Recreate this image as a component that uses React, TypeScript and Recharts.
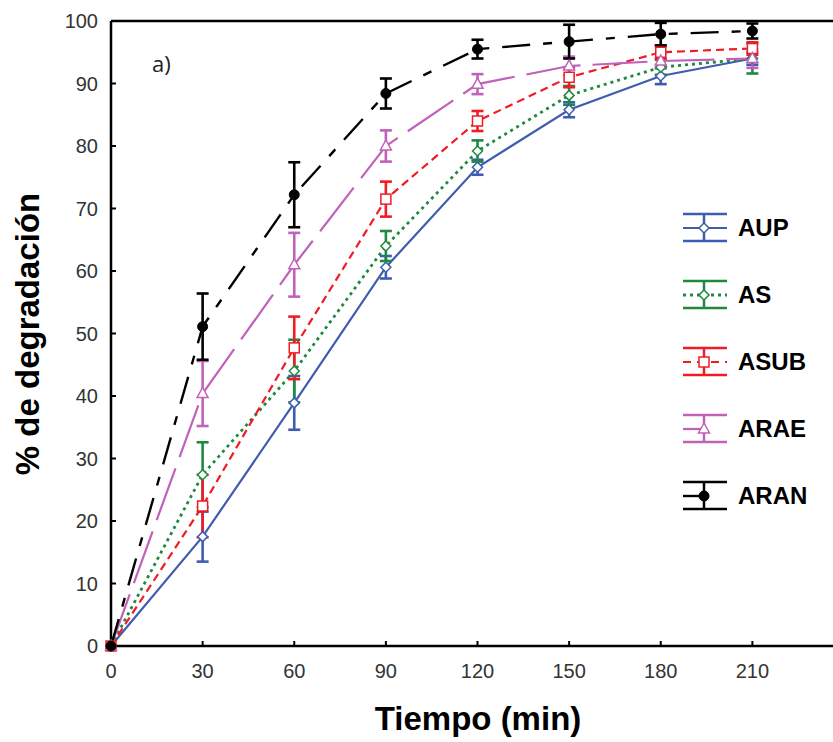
import React from "react";
import {
  LineChart,
  Line,
  XAxis,
  YAxis,
  ErrorBar,
  ReferenceLine,
} from "recharts";

// tiempo (min)
const TIME = [0, 30, 60, 90, 120, 150, 180, 210];
const X_TICKS = [0, 30, 60, 90, 120, 150, 180, 210];
const Y_TICKS = [0, 10, 20, 30, 40, 50, 60, 70, 80, 90, 100];

// % de degradación y desviación
const AUP = [0, 17.5, 38.9, 60.6, 76.6, 85.8, 91.2, 94.0];
const AUP_ERR = [0, 4, 4.3, 1.8, 1.2, 1.2, 1.3, 1.0];
const AS = [0, 27.4, 44.0, 64.0, 79.2, 88.1, 92.6, 94.0];
const AS_ERR = [0, 5.2, 5.0, 2.4, 1.7, 1.5, 1.2, 2.4];
const ASUB = [0, 22.4, 47.7, 71.5, 84.0, 91.0, 95.0, 95.6];
const ASUB_ERR = [0, 5, 5, 2.8, 1.6, 1.6, 1.0, 1.0];
const ARAE = [0, 40.4, 61.0, 80.0, 89.9, 92.8, 93.6, 94.0];
const ARAE_ERR = [0, 5.2, 5.1, 2.5, 1.6, 1.5, 1.2, 1.5];
const ARAN = [0, 51.1, 72.2, 88.4, 95.5, 96.7, 97.9, 98.4];
const ARAN_ERR = [0, 5.3, 5.2, 2.4, 1.5, 2.7, 1.8, 1.2];

const data = TIME.map((t, i) => ({
  t,
  AUP: AUP[i],
  AUP_ERR: AUP_ERR[i],
  AS: AS[i],
  AS_ERR: AS_ERR[i],
  ASUB: ASUB[i],
  ASUB_ERR: ASUB_ERR[i],
  ARAE: ARAE[i],
  ARAE_ERR: ARAE_ERR[i],
  ARAN: ARAN[i],
  ARAN_ERR: ARAN_ERR[i],
}));

type Marker = "diamond" | "square" | "triangle" | "circle";

const SERIES: { key: string; color: string; dash?: string; width: number; marker: Marker }[] = [
  { key: "AUP", color: "#3f5db0", width: 2.2, marker: "diamond" },
  { key: "AS", color: "#1d8a3f", dash: "3 4", width: 2.8, marker: "diamond" },
  { key: "ASUB", color: "#f01c24", dash: "8 5", width: 2.2, marker: "square" },
  { key: "ARAE", color: "#c062b9", dash: "55 12", width: 2.2, marker: "triangle" },
  { key: "ARAN", color: "#000000", dash: "28 13 9 13", width: 2.4, marker: "circle" },
];

const PLOT_LEFT = 111;
const PLOT_BOTTOM = 646;
const TICK_FONT = "Arial, 'Liberation Sans', sans-serif";

function markerShape(marker: Marker, cx: number, cy: number, color: string) {
  switch (marker) {
    case "diamond":
      return (
        <path
          d={`M${cx},${cy - 5} L${cx + 5},${cy} L${cx},${cy + 5} L${cx - 5},${cy} Z`}
          fill="#fff"
          stroke={color}
          strokeWidth={1.5}
        />
      );
    case "square":
      return (
        <rect x={cx - 5} y={cy - 5} width={10} height={10} fill="#fff" stroke={color} strokeWidth={1.5} />
      );
    case "triangle":
      return (
        <path
          d={`M${cx},${cy - 6} L${cx + 5.5},${cy + 4} L${cx - 5.5},${cy + 4} Z`}
          fill="#fff"
          stroke={color}
          strokeWidth={1.5}
        />
      );
    default:
      return <circle cx={cx} cy={cy} r={5} fill={color} stroke={color} />;
  }
}

const makeDot = (marker: Marker, color: string) => (props: any) => {
  const { cx, cy, index } = props;
  if (cx == null || cy == null) return <g key={index} />;
  return <g key={index}>{markerShape(marker, cx, cy, color)}</g>;
};

const XTick = (props: any) => {
  const { x, payload } = props;
  return (
    <g>
      <line x1={x} x2={x} y1={PLOT_BOTTOM} y2={PLOT_BOTTOM - 5} stroke="#000" strokeWidth={2} />
      <text x={x} y={PLOT_BOTTOM + 32} textAnchor="middle" fontSize={20} fill="#333" fontFamily={TICK_FONT}>
        {payload.value}
      </text>
    </g>
  );
};

const YTick = (props: any) => {
  const { y, payload } = props;
  return (
    <g>
      <line x1={PLOT_LEFT} x2={PLOT_LEFT + 5} y1={y} y2={y} stroke="#000" strokeWidth={2} />
      <text x={98} y={y + 7} textAnchor="end" fontSize={20} fill="#333" fontFamily={TICK_FONT}>
        {payload.value}
      </text>
    </g>
  );
};

const ChartLegend = () => (
  <div style={{ position: "absolute", left: 682, top: 212 }}>
    {SERIES.map((s) => (
      <div key={s.key} style={{ height: 67, display: "flex", alignItems: "flex-start" }}>
        <svg width={56} height={32} style={{ display: "block" }}>
          <line x1={1} x2={45} y1={2} y2={2} stroke={s.color} strokeWidth={2.5} />
          <line x1={1} x2={45} y1={29} y2={29} stroke={s.color} strokeWidth={2.5} />
          <line x1={22} x2={22} y1={2} y2={29} stroke={s.color} strokeWidth={2.5} />
          <line
            x1={1}
            x2={s.marker === "triangle" || s.marker === "circle" ? 22 : 45}
            y1={16}
            y2={16}
            stroke={s.color}
            strokeWidth={s.width}
            strokeDasharray={s.key === "AS" ? "3 4" : s.key === "ASUB" ? "8 6" : undefined}
          />
          {markerShape(s.marker, 22, 16, s.color)}
        </svg>
        <span
          style={{
            fontFamily: TICK_FONT,
            fontWeight: "bold",
            fontSize: 24,
            color: "#000",
            lineHeight: "32px",
          }}
        >
          {s.key}
        </span>
      </div>
    ))}
  </div>
);

export default function App() {
  return (
    <div style={{ position: "absolute", left: 0, top: 0, width: 833, height: 742, overflow: "hidden", background: "#fff" }}>
      <LineChart width={844} height={742} data={data} margin={{ top: 21, right: 0, bottom: 0, left: 51 }}>
        <XAxis
          dataKey="t"
          type="number"
          domain={[0, 240]}
          ticks={X_TICKS}
          height={96}
          axisLine={{ stroke: "#000", strokeWidth: 2.5 }}
          tickLine={false}
          tick={<XTick />}
          interval={0}
        />
        <YAxis
          type="number"
          domain={[0, 100]}
          ticks={Y_TICKS}
          width={60}
          axisLine={{ stroke: "#000", strokeWidth: 2.5 }}
          tickLine={false}
          tick={<YTick />}
          interval={0}
        />
        <ReferenceLine y={100} stroke="#000" strokeWidth={2.5} />
        {SERIES.map((s) => (
          <Line
            key={s.key}
            dataKey={s.key}
            type="linear"
            stroke={s.color}
            strokeWidth={s.width}
            strokeDasharray={s.dash}
            dot={makeDot(s.marker, s.color)}
            activeDot={false}
            isAnimationActive={false}
          >
            <ErrorBar dataKey={`${s.key}_ERR`} width={6} stroke={s.color} strokeWidth={2.6} direction="y" />
          </Line>
        ))}
        <text x={152} y={72} fontSize={22} fill="#222" fontFamily="'Open Sans', Arial, sans-serif">
          a)
        </text>
        <text
          x={478}
          y={730}
          textAnchor="middle"
          fontSize={33}
          fontWeight="bold"
          fill="#000"
          fontFamily={TICK_FONT}
        >
          Tiempo (min)
        </text>
        <text
          x={39}
          y={334}
          transform="rotate(-90, 39, 334)"
          textAnchor="middle"
          fontSize={33}
          fontWeight="bold"
          fill="#000"
          fontFamily={TICK_FONT}
        >
          % de degradación
        </text>
      </LineChart>
      <ChartLegend />
    </div>
  );
}
